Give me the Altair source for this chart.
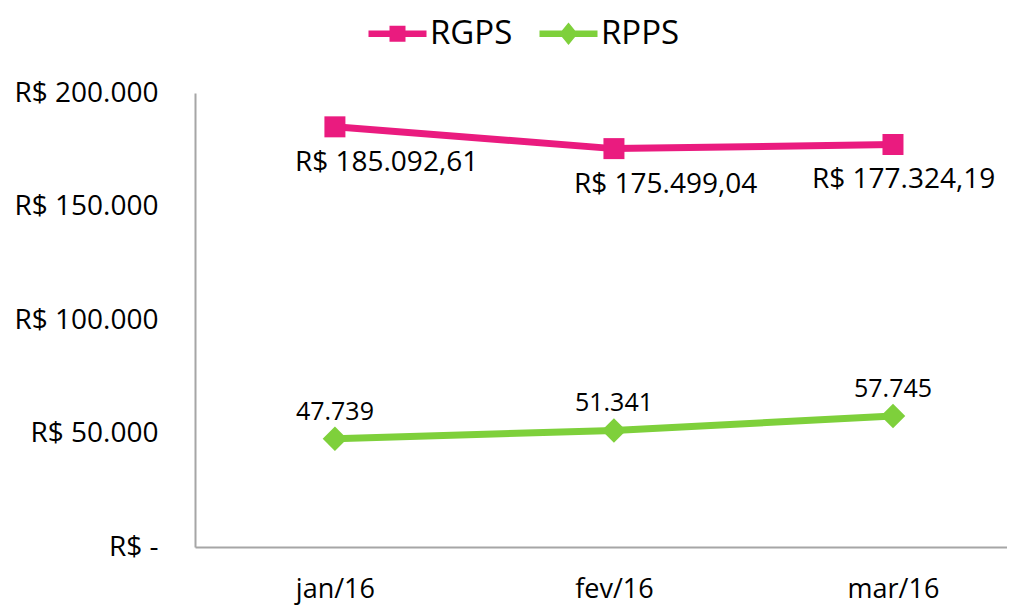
import json
import altair as alt
import pandas as pd

months = ["jan/16", "fev/16", "mar/16"]
series_names = ["RGPS", "RPPS"]
rgps_values = [185092.61, 175499.04, 177324.19]
rpps_values = [47739, 51341, 57745]
y_ticks = [0, 50000, 100000, 150000, 200000]
colors = ["#EA1B7F", "#7ED03B"]


def br(v, decimals):
    s = f"{v:,.{decimals}f}"
    return s.replace(",", "X").replace(".", ",").replace("X", ".")


rows = []
for m, v in zip(months, rgps_values):
    rows.append({"series": "RGPS", "month": m, "value": v, "label": "R$ " + br(v, 2)})
for m, v in zip(months, rpps_values):
    rows.append({"series": "RPPS", "month": m, "value": v, "label": br(v, 0)})
df = pd.DataFrame(rows)

FONT = "Open Sans"

# legend symbols: line + marker (custom paths in symbol units)
path_sq = "M-1,-0.42H6.25V0.42H-1Z M1.625,-1.0H3.625V1.0H1.625Z"
path_dm = "M-1,-0.42H6.25V0.42H-1Z M2.625,-1.4L3.775,0L2.625,1.4L1.475,0Z"

legend = alt.Legend(
    title=None,
    orient="none",
    legendX=165,
    legendY=-76,
    direction="horizontal",
    symbolSize=256,
    symbolStrokeWidth=0,
    symbolOpacity=1,
    labelFont=FONT,
    labelFontSize=33,
    labelColor="#000000",
    labelOffset=37,
    columnPadding=18,
    padding=0,
)

color_scale = alt.Scale(domain=series_names, range=colors)

base = alt.Chart(df).encode(
    x=alt.X(
        "month:N",
        sort=months,
        scale=alt.Scale(type="point", padding=0.455, align=0.551),
        axis=alt.Axis(
            title=None, ticks=False, grid=False, labelAngle=0,
            labelFont=FONT, labelFontSize=27, labelColor="#000000",
            labelPadding=29, domainColor="#A6A6A6", domainWidth=2,
        ),
    ),
    y=alt.Y(
        "value:Q",
        scale=alt.Scale(domain=[0, 200000], nice=False, zero=True),
        axis=alt.Axis(
            title=None, ticks=False, grid=False, values=y_ticks,
            labelExpr="datum.value == 0 ? 'R$ -' : 'R$ ' + replace(format(datum.value, ','), ',', '.')",
            labelFont=FONT, labelFontSize=28, labelColor="#000000",
            labelPadding=37, domainColor="#A6A6A6", domainWidth=2,
        ),
    ),
)

driver = base.mark_point(filled=True).transform_filter("false").encode(
    color=alt.Color("series:N", scale=color_scale, legend=legend),
    shape=alt.Shape("series:N", scale=alt.Scale(domain=series_names, range=[path_sq, path_dm]), legend=legend),
)

lines = base.mark_line(strokeWidth=7).encode(
    color=alt.Color("series:N", scale=color_scale, legend=None)
)

squares = base.mark_point(shape="square", filled=True, size=441, opacity=1).transform_filter(
    alt.datum.series == "RGPS"
).encode(color=alt.Color("series:N", scale=color_scale, legend=None))

diamonds = base.mark_point(shape="diamond", filled=True, size=600, opacity=1).transform_filter(
    alt.datum.series == "RPPS"
).encode(color=alt.Color("series:N", scale=color_scale, legend=None))

LBL = dict(font=FONT, color="#000000", baseline="middle")

lbl_rgps_a = base.mark_text(align="left", dx=-40, dy=36, fontSize=28, **LBL).transform_filter(
    (alt.datum.series == "RGPS") & (alt.datum.month != months[2])
).encode(text="label:N")

lbl_rgps_b = base.mark_text(align="left", dx=-81, dy=36, fontSize=28, **LBL).transform_filter(
    (alt.datum.series == "RGPS") & (alt.datum.month == months[2])
).encode(text="label:N")

lbl_rpps = base.mark_text(align="center", dy=-27, fontSize=25, **LBL).transform_filter(
    alt.datum.series == "RPPS"
).encode(text="label:N")

chart = alt.layer(driver, lines, squares, diamonds, lbl_rgps_a, lbl_rgps_b, lbl_rpps).properties(
    width=812,
    height=454,
    padding={"left": 187, "top": 85, "right": 0, "bottom": 58},
    autosize=alt.AutoSizeParams(type="none"),
    background="#FFFFFF",
).configure_view(stroke=None)

chart.save("out.html", embed_options={"renderer": "svg", "actions": False})
